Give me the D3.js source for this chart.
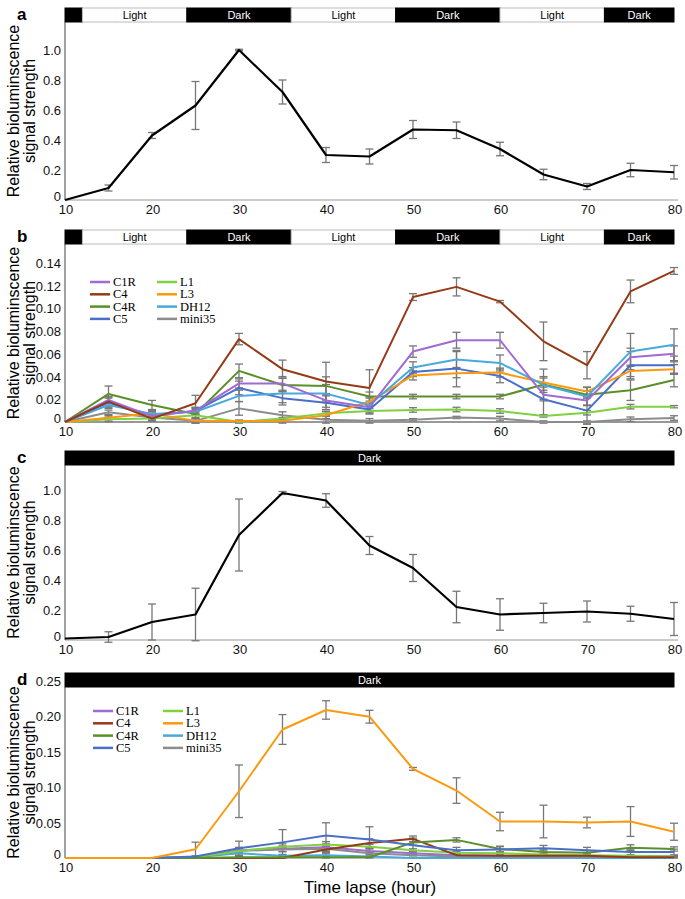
<!DOCTYPE html>
<html>
<head>
<meta charset="utf-8">
<script src="https://cdnjs.cloudflare.com/ajax/libs/d3/7.8.5/d3.min.js"></script>
<style>
  body { margin: 0; background: #fff; }
  svg { display: block; font-family: "Liberation Sans", Arial, sans-serif; }
</style>
</head>
<body>
<div id="chart"></div>
<script>
// time points (hours)
var hours = [10, 15, 20, 25, 30, 35, 40, 45, 50, 55, 60, 65, 70, 75, 80];

// light / dark bars
var cycleBars = [
    {from: 10, to: 12, label: '', dark: true},
    {from: 12, to: 24, label: 'Light', dark: false},
    {from: 24, to: 36, label: 'Dark', dark: true},
    {from: 36, to: 48, label: 'Light', dark: false},
    {from: 48, to: 60, label: 'Dark', dark: true},
    {from: 60, to: 72, label: 'Light', dark: false},
    {from: 72, to: 80, label: 'Dark', dark: true}
];
var darkBars = [{from: 10, to: 80, label: 'Dark', dark: true}];

// panel a
var aMean = [0, 0.08, 0.43, 0.63, 1.0, 0.72, 0.30, 0.29, 0.47, 0.465, 0.34, 0.17, 0.09, 0.20, 0.185];
var aErr  = [0, 0.02, 0.02, 0.16, 0.005, 0.08, 0.05, 0.05, 0.06, 0.055, 0.045, 0.035, 0.02, 0.045, 0.045];

// panel c
var cMean = [0.01, 0.02, 0.12, 0.17, 0.70, 0.98, 0.93, 0.63, 0.48, 0.22, 0.17, 0.18, 0.19, 0.175, 0.14];
var cErr  = [0, 0.035, 0.12, 0.175, 0.24, 0.01, 0.045, 0.06, 0.09, 0.105, 0.105, 0.065, 0.07, 0.05, 0.11];

var lines = ['C1R', 'C4', 'C4R', 'C5', 'L1', 'L3', 'DH12', 'mini35'];
var lineColors = ['#a06ad6', '#953a17', '#5a8f2a', '#4a6fc8', '#80d040', '#fb9a0e', '#48a9dc', '#8c8c8c'];

// panel b (light / dark cycle)
var bC1R    = [0, 0.0194, 0.005, 0.010, 0.034, 0.034, 0.019, 0.013, 0.062, 0.072, 0.072, 0.024, 0.019, 0.057, 0.060];
var bC4     = [0, 0.018, 0.003, 0.0165, 0.073, 0.0465, 0.0356, 0.030, 0.110, 0.119, 0.106, 0.071, 0.050, 0.115, 0.133];
var bC4R    = [0, 0.0247, 0.015, 0.007, 0.045, 0.0326, 0.0318, 0.0224, 0.0224, 0.0224, 0.0224, 0.033, 0.024, 0.028, 0.037];
var bC5     = [0, 0.017, 0.006, 0.0097, 0.030, 0.021, 0.017, 0.011, 0.044, 0.047, 0.0406, 0.020, 0.010, 0.050, 0.050];
var bL1     = [0, 0.0024, 0.003, 0.006, 0, 0.003, 0.0076, 0.0097, 0.0106, 0.011, 0.0097, 0.0053, 0.0082, 0.0135, 0.0135];
var bL3     = [0, 0.0038, 0.0076, 0.001, 0.0008, 0.001, 0.006, 0.018, 0.041, 0.043, 0.0435, 0.0347, 0.0268, 0.045, 0.0465];
var bDH12   = [0, 0.015, 0.007, 0.009, 0.023, 0.025, 0.025, 0.015, 0.048, 0.055, 0.052, 0.0326, 0.0224, 0.062, 0.068];
var bMini35 = [0, 0.0085, 0.004, 0.001, 0.012, 0.006, 0.002, 0.001, 0.002, 0.004, 0.003, 0, 0, 0.0024, 0.0035];

var bErrC1R    = [0, 0.003, 0.003, 0.003, 0.004, 0.006, 0.006, 0.004, 0.005, 0.007, 0.007, 0.004, 0.004, 0.008, 0.007];
var bErrC4     = [0, 0.004, 0.002, 0.007, 0.005, 0.008, 0.017, 0.016, 0.003, 0.008, 0.001, 0.017, 0.012, 0.010, 0.003];
var bErrC4R    = [0, 0.007, 0.004, 0.004, 0.006, 0.006, 0.008, 0.004, 0.002, 0.002, 0.002, 0.007, 0.003, 0.009, 0.006];
var bErrC5     = [0, 0.004, 0.003, 0.003, 0.006, 0.006, 0.006, 0.004, 0.004, 0.016, 0.006, 0.014, 0.012, 0.012, 0.008];
var bErrL1     = [0, 0.002, 0.002, 0.002, 0.001, 0.001, 0.002, 0.002, 0.002, 0.002, 0.002, 0.001, 0.002, 0.002, 0.001];
var bErrL3     = [0, 0.002, 0.002, 0.002, 0.001, 0.002, 0.003, 0.004, 0.004, 0.004, 0.004, 0.004, 0.004, 0.005, 0.004];
var bErrDH12   = [0, 0.003, 0.003, 0.003, 0.005, 0.008, 0.008, 0.006, 0.005, 0.007, 0.007, 0.014, 0.008, 0.016, 0.014];
var bErrMini35 = [0, 0.002, 0.003, 0.002, 0.006, 0.003, 0.003, 0.002, 0.001, 0.001, 0.002, 0.001, 0.001, 0.002, 0.002];

// panel d (constant dark)
var dC1R    = [0, 0, 0, 0.001, 0.011, 0.013, 0.015, 0.010, 0.0066, 0.004, 0.003, 0.002, 0.002, 0.002, 0.002];
var dC4     = [0, 0, 0, 0, 0, 0, 0.012, 0.021, 0.027, 0.004, 0.003, 0.003, 0.003, 0.001, 0.001];
var dC4R    = [0, 0, 0, 0, 0.001, 0.001, 0.001, 0.001, 0.022, 0.0255, 0.0127, 0.0085, 0.0075, 0.0146, 0.0127];
var dC5     = [0, 0, 0, 0.002, 0.0137, 0.022, 0.0316, 0.026, 0.018, 0.011, 0.012, 0.0137, 0.011, 0.0085, 0.0085];
var dL1     = [0, 0, 0, 0.001, 0.010, 0.016, 0.019, 0.016, 0.011, 0.0075, 0.0066, 0.005, 0.004, 0.003, 0.002];
var dL3     = [0, 0, 0, 0.0123, 0.094, 0.181, 0.2085, 0.199, 0.1255, 0.095, 0.0514, 0.0514, 0.050, 0.0514, 0.037];
var dDH12   = [0, 0, 0, 0.001, 0.0066, 0.003, 0.004, 0.002, 0, 0, 0, 0, 0, 0, 0];
var dMini35 = [0, 0, 0, 0.001, 0.010, 0.012, 0.013, 0.0066, 0.004, 0.002, 0.002, 0.002, 0.002, 0.002, 0.002];

var dErrC1R    = [0, 0, 0, 0.001, 0.004, 0.004, 0.005, 0.003, 0.002, 0.002, 0.001, 0.001, 0.001, 0.001, 0.001];
var dErrC4     = [0, 0, 0, 0, 0, 0, 0.004, 0.006, 0.004, 0.002, 0.001, 0.001, 0.001, 0.001, 0.001];
var dErrC4R    = [0, 0, 0, 0, 0.001, 0.001, 0.001, 0.001, 0.004, 0.003, 0.004, 0.003, 0.003, 0.004, 0.003];
var dErrC5     = [0, 0, 0, 0.001, 0.010, 0.018, 0.018, 0.018, 0.010, 0.004, 0.004, 0.004, 0.004, 0.004, 0.004];
var dErrL1     = [0, 0, 0, 0.001, 0.003, 0.004, 0.004, 0.003, 0.002, 0.002, 0.002, 0.001, 0.001, 0.001, 0.001];
var dErrL3     = [0, 0, 0, 0.010, 0.037, 0.021, 0.013, 0.009, 0.002, 0.018, 0.013, 0.023, 0.0075, 0.021, 0.012];
var dErrDH12   = [0, 0, 0, 0.001, 0.003, 0.002, 0.002, 0.001, 0, 0, 0, 0, 0, 0, 0];
var dErrMini35 = [0, 0, 0, 0.001, 0.004, 0.003, 0.004, 0.002, 0.001, 0.001, 0.001, 0.001, 0.001, 0.001, 0.001];

var aTicks = [0, 0.2, 0.4, 0.6, 0.8, 1.0];
var bTicks = [0, 0.02, 0.04, 0.06, 0.08, 0.10, 0.12, 0.14];
var dTicks = [0, 0.05, 0.10, 0.15, 0.20, 0.25];
var xTicks = [10, 20, 30, 40, 50, 60, 70, 80];

var width = 685, height = 899;

var svg = d3.select('#chart')
    .append('svg')
        .attr('width', width)
        .attr('height', height);

var x = d3.scaleLinear()
    .domain([10, 80])
    .range([65, 674]);

function makeSeries(means, errs, color) {
    return hours.map(function(h, i) {
        return {h: h, v: means[i], e: errs[i], color: color};
    });
}

function drawPanel(p) {
    var g = svg.append('g');

    var y = d3.scaleLinear()
        .domain([0, p.topTick])
        .range([p.base, p.topY]);

    // light / dark bar
    var barG = g.append('g');
    barG.selectAll('rect')
        .data(p.bars)
        .enter()
        .append('rect')
        .attr('x', d => x(d.from))
        .attr('y', p.barTop)
        .attr('width', d => x(d.to) - x(d.from))
        .attr('height', 14)
        .attr('fill', d => d.dark ? '#000' : '#fff')
        .style('stroke', d => d.dark ? '#000' : '#bbb')
        .style('stroke-width', 1);
    barG.selectAll('text')
        .data(p.bars)
        .enter()
        .append('text')
        .attr('x', d => (x(d.from) + x(d.to)) / 2)
        .attr('y', p.barTop + 11)
        .attr('text-anchor', 'middle')
        .style('font-size', '11px')
        .attr('fill', d => d.dark ? '#fff' : '#000')
        .text(d => d.label);

    // panel letter
    g.append('text')
        .attr('x', p.letterX)
        .attr('y', p.barTop + 12)
        .style('font-size', '17px')
        .style('font-weight', 'bold')
        .text(p.letter);

    // axes
    g.append('line')
        .attr('x1', x(10)).attr('x2', x(10))
        .attr('y1', p.barTop + 14).attr('y2', p.base)
        .style('stroke', '#444')
        .style('stroke-width', 1);
    g.append('line')
        .attr('x1', x(10)).attr('x2', 678)
        .attr('y1', p.base).attr('y2', p.base)
        .style('stroke', p.xAxisColor)
        .style('stroke-width', 1.2);

    g.selectAll('.ytick')
        .data(p.ticks)
        .enter()
        .append('text')
        .attr('x', 61)
        .attr('y', d => d === 0 ? y(d) + 1 : y(d) + 5)
        .attr('text-anchor', 'end')
        .style('font-size', '13px')
        .attr('fill', '#111')
        .text(d => d === 0 ? '0' : d3.format(p.fmt)(d));

    g.selectAll('.xtick')
        .data(xTicks)
        .enter()
        .append('text')
        .attr('x', d => x(d) + 1)
        .attr('y', p.base + 14)
        .attr('text-anchor', 'middle')
        .style('font-size', '13px')
        .attr('fill', '#111')
        .text(d => d);

    // y title
    var midY = (p.barTop + 14 + p.base) / 2;
    g.append('text')
        .attr('transform', 'translate(19,' + midY + ') rotate(-90)')
        .attr('text-anchor', 'middle')
        .style('font-size', '16px')
        .text('Relative bioluminscence');
    g.append('text')
        .attr('transform', 'translate(35,' + midY + ') rotate(-90)')
        .attr('text-anchor', 'middle')
        .style('font-size', '16px')
        .text('signal strength');

    var line = d3.line()
        .x(d => x(d.h))
        .y(d => y(d.v));

    // error bars
    var allPts = [].concat.apply([], p.series);
    var err = g.append('g');
    allPts.filter(d => d.e > 0).forEach(function(d) {
        var cx = x(d.h);
        err.append('line')
            .attr('x1', cx).attr('x2', cx)
            .attr('y1', y(d.v - d.e)).attr('y2', y(d.v + d.e))
            .style('stroke', '#777').style('stroke-width', 1.3);
        [d.v - d.e, d.v + d.e].forEach(function(v) {
            err.append('line')
                .attr('x1', cx - 4).attr('x2', cx + 4)
                .attr('y1', y(v)).attr('y2', y(v))
                .style('stroke', '#777').style('stroke-width', 1.3);
        });
    });

    g.selectAll('.series')
        .data(p.series)
        .enter()
        .append('path')
        .attr('d', line)
        .attr('fill', 'none')
        .style('stroke', d => d[0].color)
        .style('stroke-width', p.lineWidth)
        .style('stroke-linejoin', 'round');

    // legend
    if (p.legend) {
        var lg = g.append('g');
        lines.forEach(function(name, i) {
            var col = Math.floor(i / 4), row = i % 4;
            var lx = p.legend.x + col * p.legend.colW;
            var ly = p.legend.y + row * 12.3;
            lg.append('line')
                .attr('x1', lx).attr('x2', lx + 20)
                .attr('y1', ly).attr('y2', ly)
                .style('stroke', lineColors[i])
                .style('stroke-width', 2.5);
            lg.append('text')
                .attr('x', lx + 23)
                .attr('y', ly + 4)
                .style('font-family', '"Liberation Serif", "Times New Roman", serif')
                .style('font-size', '12.5px')
                .text(name);
        });
    }
}

drawPanel({
    letter: 'a', letterX: 17, barTop: 8, base: 200, topY: 50, topTick: 1.0,
    ticks: aTicks, fmt: '.1f', bars: cycleBars, xAxisColor: '#999', lineWidth: 2.2,
    series: [makeSeries(aMean, aErr, '#000')]
});

drawPanel({
    letter: 'b', letterX: 17, barTop: 230, base: 422, topY: 263, topTick: 0.14,
    ticks: bTicks, fmt: '.2f', bars: cycleBars, xAxisColor: '#333', lineWidth: 2,
    legend: {x: 90, y: 282, colW: 67},
    series: [
        makeSeries(bMini35, bErrMini35, lineColors[7]),
        makeSeries(bL1, bErrL1, lineColors[4]),
        makeSeries(bC4R, bErrC4R, lineColors[2]),
        makeSeries(bC5, bErrC5, lineColors[3]),
        makeSeries(bL3, bErrL3, lineColors[5]),
        makeSeries(bDH12, bErrDH12, lineColors[6]),
        makeSeries(bC1R, bErrC1R, lineColors[0]),
        makeSeries(bC4, bErrC4, lineColors[1])
    ]
});

drawPanel({
    letter: 'c', letterX: 17, barTop: 451, base: 640, topY: 490, topTick: 1.0,
    ticks: aTicks, fmt: '.1f', bars: darkBars, xAxisColor: '#999', lineWidth: 2.2,
    series: [makeSeries(cMean, cErr, '#000')]
});

drawPanel({
    letter: 'd', letterX: 17, barTop: 673, base: 858, topY: 680.5, topTick: 0.25,
    ticks: dTicks, fmt: '.2f', bars: darkBars, xAxisColor: '#999', lineWidth: 2,
    legend: {x: 93, y: 711, colW: 70},
    series: [
        makeSeries(dDH12, dErrDH12, lineColors[6]),
        makeSeries(dC1R, dErrC1R, lineColors[0]),
        makeSeries(dMini35, dErrMini35, lineColors[7]),
        makeSeries(dL1, dErrL1, lineColors[4]),
        makeSeries(dC4, dErrC4, lineColors[1]),
        makeSeries(dC4R, dErrC4R, lineColors[2]),
        makeSeries(dC5, dErrC5, lineColors[3]),
        makeSeries(dL3, dErrL3, lineColors[5])
    ]
});

svg.append('text')
    .attr('x', 370)
    .attr('y', 893)
    .attr('text-anchor', 'middle')
    .style('font-size', '17px')
    .text('Time lapse (hour)');
</script>
</body>
</html>
